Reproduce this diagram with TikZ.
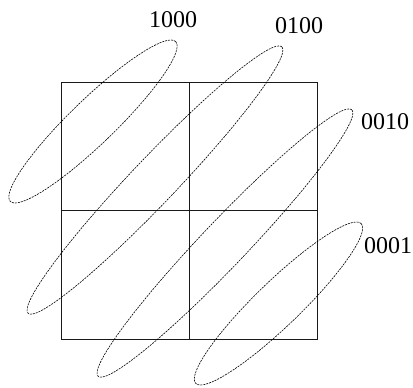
\documentclass[tikz,border=0pt]{standalone}
\usepackage{fontspec}
\setmainfont{Liberation Serif}
\begin{document}
\begin{tikzpicture}[x=1pt,y=-1pt,
  gridline/.style={line width=1pt,black!90},
  loop/.style={line width=0.6pt,dash pattern=on 2pt off 1pt},
  lab/.style={font=\fontsize{24}{26}\selectfont,inner sep=0pt}]
\useasboundingbox (0,0) rectangle (413,388);
% grid
\coordinate (tl) at (61,82);
\coordinate (br) at (317,339);
\draw[gridline] (tl) rectangle (br);
\draw[gridline] (189,82) -- (189,339);
\draw[gridline] (61,210) -- (317,210);
% ellipses
\coordinate (e1) at (93,121.5);
\coordinate (e2) at (155,180);
\coordinate (e3) at (225,243);
\coordinate (e4) at (278.5,303.5);
\draw[loop,rotate around={44:(e1)}] (e1) ellipse [x radius=115pt,y radius=22.4pt];
\draw[loop,rotate around={46.4:(e2)}] (e2) ellipse [x radius=184pt,y radius=22.6pt];
\draw[loop,rotate around={46.4:(e3)}] (e3) ellipse [x radius=184pt,y radius=22.6pt];
\draw[loop,rotate around={44:(e4)}] (e4) ellipse [x radius=115pt,y radius=22.4pt];
% labels
\node[lab] (l1) at (173,20) {1000};
\node[lab] (l2) at (299,26) {0100};
\node[lab] (l3) at (385,121.5) {0010};
\node[lab] (l4) at (388,246) {0001};
\end{tikzpicture}
\end{document}
